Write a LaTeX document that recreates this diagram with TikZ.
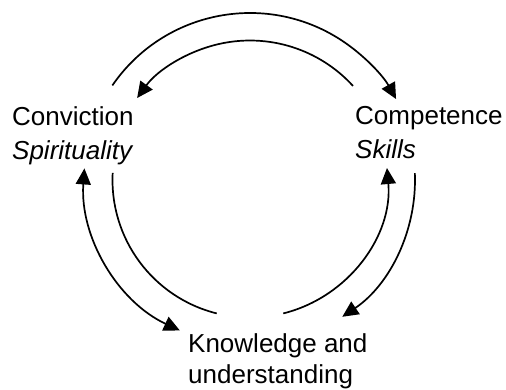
\documentclass[tikz,border=0pt]{standalone}
\usepackage{fontspec}
\setmainfont{Liberation Sans}
\usetikzlibrary{arrows.meta}
\begin{document}
\begin{tikzpicture}[x=1pt,y=1pt,
  lbl/.style={anchor=base west,inner sep=0pt,font=\fontsize{26}{34}\selectfont},
  link/.style={line width=1.7pt},
  arrowend/.style={-{Triangle[length=16pt,width=15pt]}},
  arrowboth/.style={{Triangle[length=16pt,width=15pt]}-{Triangle[length=16pt,width=15pt]}}
]
\useasboundingbox (0,0) rectangle (506,389);
\coordinate (o) at (250,209);
\node[lbl] (conv) at (12,263) {\begin{tabular}[t]{@{}l@{}}Conviction\\\textit{Spirituality}\end{tabular}};
\node[lbl] (comp) at (355,264) {\begin{tabular}[t]{@{}l@{}}Competence\\\textit{Skills}\end{tabular}};
\node[lbl,font=\fontsize{26}{31.5}\selectfont] (know) at (188,37) {\begin{tabular}[t]{@{}l@{}}Knowledge and\\understanding\end{tabular}};
% top arcs
\coordinate (a1) at ([shift={(145.5:167)}]o);
\draw[link,arrowend] (a1) arc[start angle=145.5,end angle=29,radius=167];
\coordinate (a2) at ([shift={(42.4:139.5)}]o);
\draw[link,arrowend] (a2) arc[start angle=42.4,end angle=144,radius=139.5];
% left arcs
\coordinate (a3) at ([shift={(176:166)}]o);
\draw[link,arrowboth] (a3) arc[start angle=176,end angle=245,radius=166];
\coordinate (a4) at ([shift={(177:137.5)}]o);
\draw[link] (a4) arc[start angle=177,end angle=256,radius=137.5];
% right arcs
\coordinate (a5) at ([shift={(-76:137.5)}]o);
\draw[link,arrowend] (a5) arc[start angle=-76,end angle=5,radius=137.5];
\coordinate (a6) at ([shift={(2.4:165)}]o);
\draw[link,arrowend] (a6) arc[start angle=2.4,end angle=-56,radius=165];
\end{tikzpicture}
\end{document}
